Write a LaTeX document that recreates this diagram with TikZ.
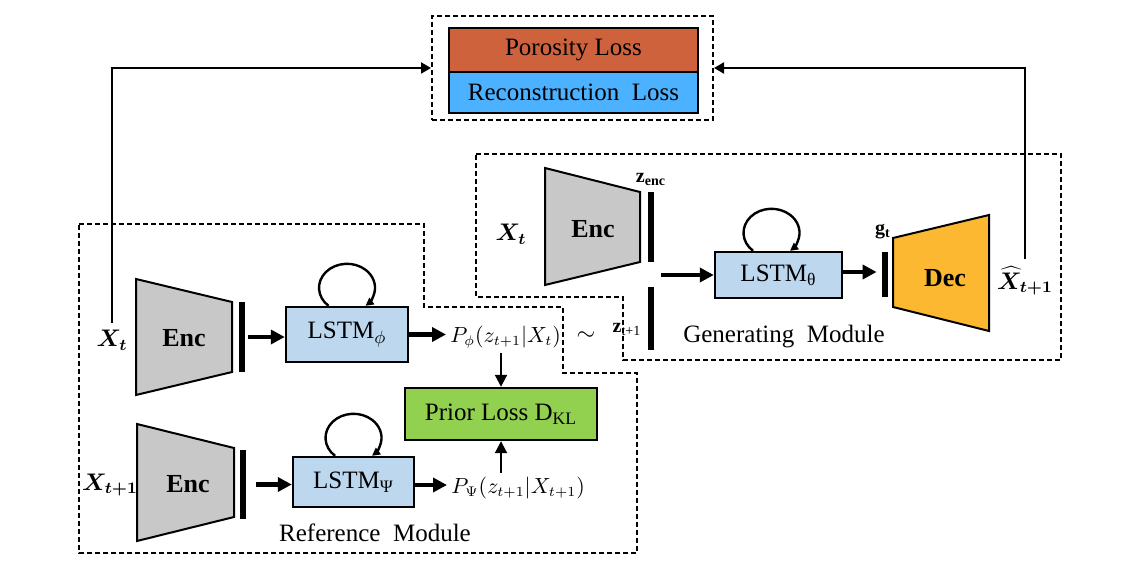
\documentclass[tikz,border=0pt]{standalone}
\usepackage{fontspec}
\setmainfont{Liberation Serif}
\usepackage{bm}
\usetikzlibrary{arrows.meta}
\definecolor{encgray}{HTML}{C8C8C8}
\definecolor{lstmblue}{HTML}{BDD7EE}
\definecolor{priorgreen}{HTML}{92D050}
\definecolor{decorange}{HTML}{FBB830}
\definecolor{poro}{HTML}{CD623C}
\definecolor{recon}{HTML}{4CB2FF}
\begin{document}
\begin{tikzpicture}[x=0.5pt,y=0.5pt,
  txt/.style={font=\fontsize{12.5}{14}\selectfont},
  lstmbox/.style={draw, line width=1.2pt, fill=lstmblue, inner sep=0pt, txt},
  lossrow/.style={draw, line width=1.25pt, inner sep=0pt, minimum width=124.5pt, txt},
  barnode/.style={fill=black, draw=none, minimum width=3pt, inner sep=0pt},
  bigarrow/.style={line width=2.2pt, -{Triangle[length=7pt,width=7pt]}},
  thinarrow/.style={line width=1pt, -{Triangle[length=6pt,width=6pt]}},
  fbarrow/.style={line width=1pt, -{Triangle[length=5pt,width=5.5pt]}},
  loopline/.style={line width=1.2pt, -{Triangle[length=4pt,width=4pt]}},
  moddash/.style={line width=1pt, dash pattern=on 2.5pt off 1.5pt},
  trap/.style={draw, line width=1pt},
  enclabel/.style={font=\fontsize{13}{15}\selectfont\bfseries},
  xlabel/.style={font=\fontsize{11.5}{13}\selectfont},
  plabel/.style={font=\fontsize{10.5}{12}\selectfont, inner sep=2pt},
  small/.style={font=\fontsize{10}{11}\selectfont, inner sep=1pt}
]
\useasboundingbox (0,0) rectangle (1143,-571);

% module outlines
\draw[moddash] (79,-224) -- (424,-224) -- (424,-307) -- (563,-307) -- (563,-373) -- (637,-373) -- (637,-553) -- (79,-553) -- cycle;
\draw[moddash] (476,-154) -- (1061,-154) -- (1061,-360) -- (623,-360) -- (623,-297) -- (476,-297) -- cycle;

% loss box
\node[draw, moddash, minimum width=140.5pt, minimum height=52pt, inner sep=0pt] (lossbox) at (572.5,-68) {};
\node[lossrow, fill=poro, minimum height=22pt] (poro) at (573.5,-50) {Porosity Loss};
\node[lossrow, fill=recon, minimum height=20.5pt] (recon) at (573.5,-92.5) {Reconstruction\hspace{0.25em} Loss};

% encoders / decoder
\draw[trap, fill=encgray] (136,-279) -- (232,-302) -- (232,-372) -- (136,-395) -- cycle;
\node[enclabel] (enc1) at (184,-338) {Enc};
\draw[trap, fill=encgray] (137,-424) -- (234,-448) -- (234,-517) -- (137,-541) -- cycle;
\node[enclabel] (enc2) at (188,-484) {Enc};
\draw[trap, fill=encgray] (545,-168) -- (640,-192) -- (640,-262) -- (545,-285) -- cycle;
\node[enclabel] (enc3) at (593,-229) {Enc};
\draw[trap, fill=decorange] (893,-238) -- (989,-215) -- (989,-331) -- (893,-307) -- cycle;
\node[enclabel] (dec) at (945,-278) {Dec};

% input / output labels
\node[xlabel] (xt1) at (112,-340) {$\bm{X_t}$};
\node[xlabel] (xt2) at (110,-485) {$\bm{X_{t+1}}$};
\node[xlabel] (xt3) at (511,-234) {$\bm{X_t}$};
\node[xlabel] (xhat) at (1025,-281) {$\bm{\widehat{X}_{t+1}}$};

% bars
\node[barnode, minimum height=35pt] (bar1) at (242,-337) {};
\node[barnode, minimum height=34.5pt] (bar2) at (243,-484.5) {};
\node[barnode, minimum height=35pt] (barenc) at (651,-227) {};
\node[barnode, minimum height=31.5pt] (barz) at (651,-318.5) {};
\node[barnode, minimum height=22.5pt] (barg) at (885,-274.5) {};
\node[small] (zenc) at (651,-179) {\textbf{z\textsubscript{enc}}};
\node[small] (zt1) at (627,-329) {\textbf{z}\textsubscript{t+1}};
\node[small] (gt) at (883,-232) {\textbf{g\textsubscript{t}}};
\node[font=\fontsize{13}{14}\selectfont] (tilde) at (586,-336) {$\sim$};

% LSTM boxes
\node[lstmbox, minimum width=61pt, minimum height=27.5pt] (lstm1) at (347,-334.5) {LSTM$_{\phi}$};
\node[lstmbox, minimum width=60.5pt, minimum height=25pt] (lstm2) at (353.5,-482) {LSTM\textsubscript{Ψ}};
\node[lstmbox, minimum width=63.5pt, minimum height=23pt] (lstm3) at (778.5,-275) {LSTM\textsubscript{θ}};

% prior loss
\node[draw, line width=1.2pt, fill=priorgreen, minimum width=96pt, minimum height=26pt, inner sep=0pt, txt] (prior) at (501,-414) {Prior Loss D\textsubscript{KL}};

% distribution labels
\node[plabel, anchor=west] (pphi) at (446,-337) {$P_{\phi}(z_{t+1}|X_t)$};
\node[plabel, anchor=west] (ppsi) at (447,-488) {$P_{\Psi}(z_{t+1}|X_{t+1})$};

% self loops
\draw[loopline] ([xshift=-9.25pt]lstm1.north) arc[start angle=228.6, end angle=-48.6, x radius=14pt, y radius=12pt];
\draw[loopline] ([xshift=-9.25pt]lstm2.north) arc[start angle=228.6, end angle=-48.6, x radius=14pt, y radius=12pt];
\draw[loopline] ([xshift=-12.75pt]lstm3.north) arc[start angle=228.6, end angle=-48.6, x radius=14pt, y radius=12pt];

% arrows
\draw[bigarrow, shorten <=1.5pt] (bar1.east) -- (bar1.east -| lstm1.west);
\draw[bigarrow] (lstm1.east) -- (lstm1.east -| pphi.west);
\draw[bigarrow, shorten <=5pt] (bar2.east) -- (bar2.east -| lstm2.west);
\draw[bigarrow] ([yshift=-1.5pt]lstm2.east) -- ([yshift=-1.5pt]lstm2.east -| ppsi.west);
\coordinate (zjoin) at (661,-275);
\draw[bigarrow] (zjoin) -- (lstm3.west);
\draw[bigarrow, shorten >=2.5pt] ([yshift=1.5pt]lstm3.east) -- ([yshift=1.5pt]lstm3.east -| barg.west);
\draw[thinarrow] (prior.north |- pphi.south) -- (prior.north);
\draw[thinarrow] (prior.south |- ppsi.north) -- (prior.south);

% feedback to losses
\draw[fbarrow] (xt1.north) |- (lossbox.west);
\draw[fbarrow] (xhat.north) |- (lossbox.east);

% module titles
\node[txt] (refmod) at (375,-533) {Reference\hspace{0.25em} Module};
\node[txt] (genmod) at (784,-337) {Generating\hspace{0.25em} Module};
\end{tikzpicture}
\end{document}
